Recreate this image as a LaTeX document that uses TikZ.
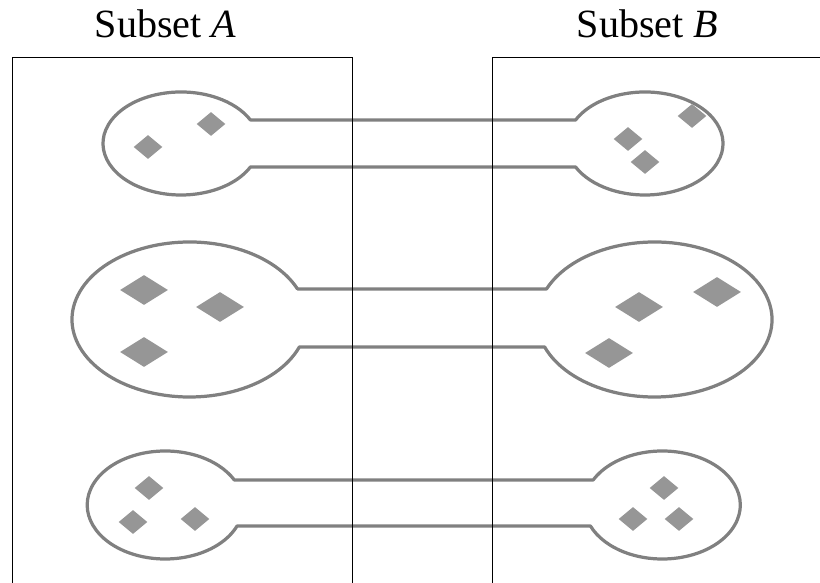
\documentclass[tikz,border=0pt]{standalone}
\usepackage{fontspec}
\setmainfont{Liberation Serif}
\usetikzlibrary{shapes.geometric,calc}

\definecolor{ringgray}{RGB}{128,128,128}
\definecolor{elemgray}{RGB}{150,150,150}

\begin{document}
\begin{tikzpicture}[
    x=0.025cm, y=0.025cm,
    % Define styles
    ring/.style={draw=ringgray, line width=2.3pt, line join=round},
    elem/.style={diamond, fill=elemgray, inner sep=0pt, minimum width=0.72cm, minimum height=0.6cm},
    bigelem/.style={elem, minimum width=1.2cm, minimum height=0.75cm},
    subset/.style={draw=black, line width=0.7pt},
    title/.style={font=\fontsize{28.5}{34}\selectfont, anchor=base, inner sep=0pt}
]
\useasboundingbox (0,0) rectangle (820,583);

% Titles
\node[title] (titleA) at (165.5,545) {Subset \textit{A}};
\node[title] (titleB) at (647.5,545) {Subset \textit{B}};

% Pair 1
\coordinate (a1) at (181,439.5);
\coordinate (b1) at (645,439.5);
\draw[ring] ($(a1)+(27.15:78 and 51.5)$) -- ($(b1)+(152.85:78 and 51.5)$)
    arc[start angle=152.85, end angle=-152.85, x radius=78, y radius=51.5]
    -- ($(a1)+(-27.15:78 and 51.5)$)
    arc[start angle=-27.15, end angle=-332.85, x radius=78, y radius=51.5] -- cycle;

% Pair 2
\coordinate (a2) at (189.5,263.5);
\coordinate (b2) at (654.5,263.5);
\draw[ring] ($(a2)+(23.17:117.5 and 77.5)$) -- ($(b2)+(156.83:117.5 and 77.5)$)
    arc[start angle=156.83, end angle=-159.22, x radius=117.5, y radius=77.5]
    -- ($(a2)+(-20.78:117.5 and 77.5)$)
    arc[start angle=-20.78, end angle=-336.83, x radius=117.5, y radius=77.5] -- cycle;

% Pair 3
\coordinate (a3) at (165.2,78);
\coordinate (b3) at (662.3,78);
\draw[ring] ($(a3)+(27.58:78 and 54)$) -- ($(b3)+(152.42:78 and 54)$)
    arc[start angle=152.42, end angle=-157.12, x radius=78, y radius=54]
    -- ($(a3)+(-22.88:78 and 54)$)
    arc[start angle=-22.88, end angle=-332.42, x radius=78, y radius=54] -- cycle;

% Elements
\node[elem] (a1x) at (148,436) {};
\node[elem] (a1y) at (211,459) {};
\node[elem] (b1x) at (692,467) {};
\node[elem] (b1y) at (628,444) {};
\node[elem] (b1z) at (645,421) {};

\node[bigelem] (a2x) at (144,293) {};
\node[bigelem] (a2y) at (220,276) {};
\node[bigelem] (a2z) at (144,231) {};
\node[bigelem] (b2x) at (639,276) {};
\node[bigelem] (b2y) at (717,291) {};
\node[bigelem] (b2z) at (609,230) {};

\node[elem] (a3x) at (149,95) {};
\node[elem] (a3y) at (133,61) {};
\node[elem] (a3z) at (195,64) {};
\node[elem] (b3x) at (664,95) {};
\node[elem] (b3y) at (633,64) {};
\node[elem] (b3z) at (679,64) {};

% Subset frames
\draw[subset] (12,0) -- (12,525) -- (352,525) -- (352,0);
\draw[subset] (492,0) -- (492,525) -- (820,525);

\end{tikzpicture}
\end{document}
